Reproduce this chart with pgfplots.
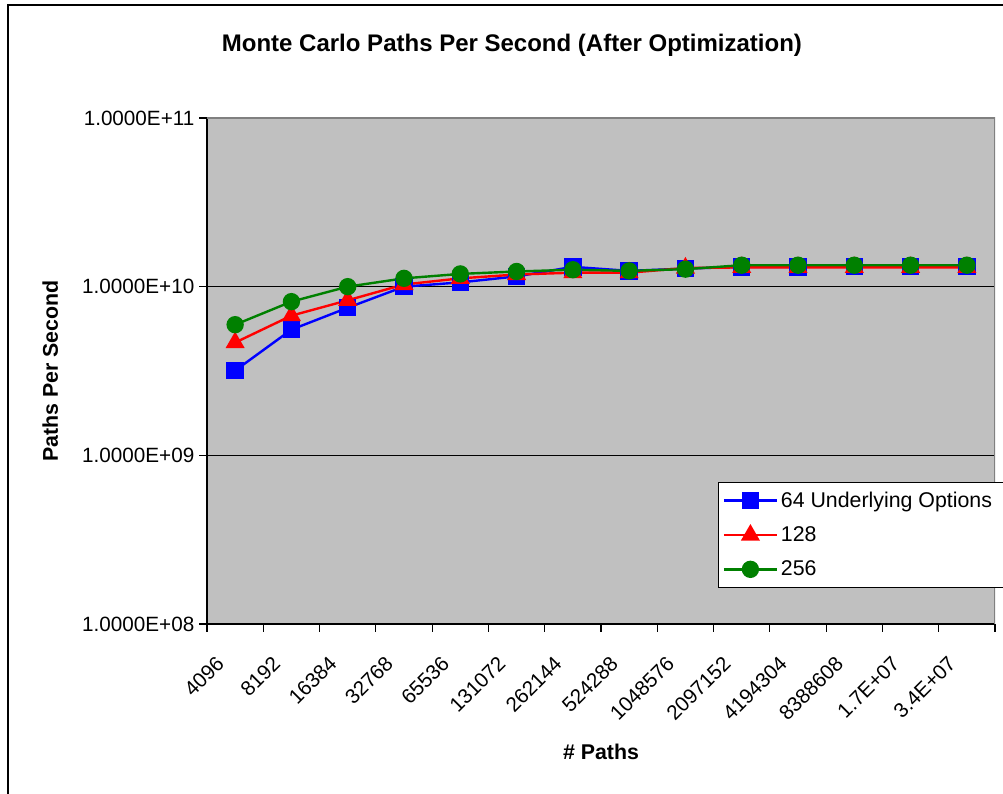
\documentclass[border=0pt]{standalone}
\usepackage{fontspec}
\setmainfont{Liberation Sans}
\usepackage{pgfplots}
\pgfplotsset{compat=1.18}
\definecolor{plotgray}{RGB}{192,192,192}
\definecolor{bordergray}{RGB}{128,128,128}
\definecolor{xlgreen}{RGB}{0,128,0}
\begin{document}
\begin{tikzpicture}
\useasboundingbox (0,0) rectangle (752.25pt,594.75pt);
\draw[line width=1.2pt] (6pt,-10pt) -- (6pt,591pt) -- (770pt,591pt);
\begin{axis}[
  at={(155.25pt,126.75pt)}, anchor=south west,
  scale only axis, width=591pt, height=379.5pt,
  ymode=log, ymin=1e8, ymax=1e11,
  xmin=-0.5, xmax=13.5,
  axis background/.style={fill=plotgray},
  axis lines*=left,
  axis line style={line width=1.2pt, black},
  ytick={1e8,1e9,1e10,1e11},
  yticklabels={1.0000E+08,1.0000E+09,1.0000E+10,1.0000E+11},
  yminorticks=false,
  ymajorgrids, grid style={black, line width=0.8pt},
  tick align=outside, major tick length=6pt,
  tick style={black, line width=0.8pt},
  xtick={-0.5,0.5,...,13.5}, xticklabels={},
  extra x ticks={0,1,...,13},
  extra x tick labels={4096,8192,16384,32768,65536,131072,262144,524288,1048576,2097152,4194304,8388608,1.7E+07,3.4E+07},
  extra x tick style={major tick length=0pt},
  tick label style={font=\fontsize{15.5pt}{18pt}\selectfont},
  xticklabel style={xshift=-15pt, yshift=-20pt, rotate=45, anchor=north east, inner sep=2pt},
  title={Monte Carlo Paths Per Second (After Optimization)},
  title style={font=\bfseries\fontsize{18pt}{21pt}\selectfont, at={(rel axis cs:0.387,1.128)}, anchor=center},
  xlabel={\# Paths},
  xlabel style={font=\bfseries\fontsize{16pt}{19pt}\selectfont, at={(rel axis cs:0.5,-0.253)}, anchor=center},
  ylabel={Paths Per Second},
  ylabel style={font=\bfseries\fontsize{16pt}{19pt}\selectfont, at={(rel axis cs:-0.199,0.5)}, anchor=center, rotate=0},
  legend style={at={(rel axis cs:0.6485,0.2806)}, anchor=north west, draw=black, fill=white, line width=0.8pt,
    font=\fontsize{16pt}{19pt}\selectfont, cells={anchor=west}, row sep=9pt, inner ysep=5pt, inner xsep=3pt},
  legend image code/.code={\draw[mark repeat=2,mark phase=2,line width=1.8pt] plot coordinates {(0pt,0pt) (20pt,0pt) (40pt,0pt)};},
]
\addplot[blue, line width=1.8pt, mark=square*, mark size=5.6pt, mark options={solid}] coordinates {
(0,3.18e9) (1,5.56e9) (2,7.5e9) (3,1.0e10) (4,1.06e10) (5,1.15e10) (6,1.31e10) (7,1.24e10) (8,1.28e10) (9,1.31e10) (10,1.31e10) (11,1.32e10) (12,1.32e10) (13,1.32e10)};
\addlegendentry{64 Underlying Options\hspace*{30pt}}
\addplot[red, line width=1.8pt, mark=triangle*, mark size=6.5pt, mark options={solid}] coordinates {
(0,4.66e9) (1,6.73e9) (2,8.3e9) (3,1.03e10) (4,1.12e10) (5,1.18e10) (6,1.21e10) (7,1.21e10) (8,1.29e10) (9,1.30e10) (10,1.30e10) (11,1.30e10) (12,1.30e10) (13,1.30e10)};
\addlegendentry{128}
\addplot[xlgreen, line width=1.8pt, mark=*, mark size=5.6pt, mark options={solid}] coordinates {
(0,5.95e9) (1,8.15e9) (2,1.0e10) (3,1.12e10) (4,1.19e10) (5,1.23e10) (6,1.26e10) (7,1.24e10) (8,1.27e10) (9,1.34e10) (10,1.34e10) (11,1.34e10) (12,1.34e10) (13,1.34e10)};
\addlegendentry{256}
\draw[bordergray, line width=1.6pt] (rel axis cs:0,1) -- (rel axis cs:1,1) -- (rel axis cs:1,0);
\end{axis}
\end{tikzpicture}
\end{document}
